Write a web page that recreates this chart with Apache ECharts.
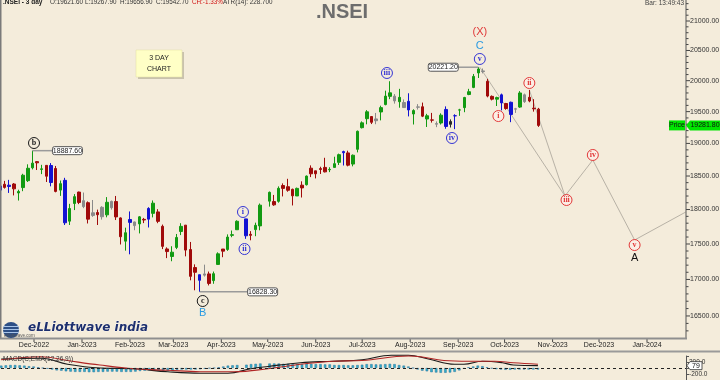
<!DOCTYPE html>
<html><head><meta charset="utf-8">
<script src="https://cdn.jsdelivr.net/npm/echarts@6.0.0/dist/echarts.min.js"></script>
<style>html,body{margin:0;padding:0;background:#f4ecdb;}#c{width:720px;height:380px;}</style>
</head><body><div id="c"></div>
<script>
// ---------- DATA ----------
// each 3-day bar is keyed by the first calendar day of its window
const candleDates = ['2022-11-09','2022-11-12','2022-11-15','2022-11-18','2022-11-21','2022-11-24','2022-11-27','2022-11-30',
'2022-12-03','2022-12-06','2022-12-09','2022-12-12','2022-12-15','2022-12-18','2022-12-21','2022-12-24','2022-12-27','2022-12-30',
'2023-01-02','2023-01-05','2023-01-08','2023-01-11','2023-01-14','2023-01-17','2023-01-20','2023-01-23','2023-01-26','2023-01-29',
'2023-02-01','2023-02-04','2023-02-07','2023-02-10','2023-02-13','2023-02-16','2023-02-19','2023-02-22','2023-02-25','2023-02-28',
'2023-03-03','2023-03-06','2023-03-09','2023-03-12','2023-03-15','2023-03-18','2023-03-21','2023-03-24','2023-03-27','2023-03-30',
'2023-04-02','2023-04-05','2023-04-08','2023-04-11','2023-04-17','2023-04-20','2023-04-23','2023-04-26',
'2023-05-02','2023-05-05','2023-05-08','2023-05-11','2023-05-14','2023-05-17','2023-05-20','2023-05-23','2023-05-26','2023-05-29',
'2023-06-01','2023-06-04','2023-06-07','2023-06-10','2023-06-13','2023-06-16','2023-06-19','2023-06-22','2023-06-25','2023-06-28',
'2023-07-01','2023-07-04','2023-07-07','2023-07-10','2023-07-13','2023-07-16','2023-07-19','2023-07-22','2023-07-25','2023-07-28','2023-07-31',
'2023-08-03','2023-08-06','2023-08-09','2023-08-12','2023-08-15','2023-08-18','2023-08-21','2023-08-24','2023-08-27','2023-08-30',
'2023-09-02','2023-09-05','2023-09-08','2023-09-11','2023-09-14','2023-09-17','2023-09-20','2023-09-23','2023-09-26','2023-09-29',
'2023-10-02','2023-10-05','2023-10-08','2023-10-11','2023-10-14','2023-10-17','2023-10-20','2023-10-23'];
const opens = [18288,18376,18362,18380,18246,18326,18430,18625, 18719,18600,18662,18402,18614,18288,18435,17830,18089,18259,
18131,18101,17952,17924,18033,17922,18120,18118,17877,17541, 17812,17818,17790,17847,17859,18094,17965,17755,17429,17383,
17451,17680,17772,17421,17166,17066,17060,17077,16984,17210, 17428,17422,17634,17705,17863,17639,17707,17761,
18124,18118,18121,18357,18339,18300,18201,18362,18369,18619, 18579,18613,18631,18595,18631,18708,18873,18853,18682,18909,
19246,19388,19422,19356,19495,19613,19802,19748,19729,19565,19666, 19463,19576,19578,19383,19369,19301,19320,19535,19299,19433,
19525,19564,19775,19890,20127,20160,19990,19745,19700,19770, 19630,19650,19545,19573,19770,19730,19555,19540];
const highs = [18362,18427,18442,18394,18294,18534,18678,18888, 18728,18670,18664,18697,18653,18432,18473,18084,18229,18265,
18252,18120,18141,17999,18049,18184,18132,18201,17885,17735, 17972,17823,17904,17877,18034,18134,18005,17780,17452,17468,
17644,17800,17772,17529,17211,17066,17207,17110,17110,17381, 17428,17638,17694,17842,17863,17685,17808,18089,
18267,18216,18344,18389,18458,18310,18326,18420,18508,18662, 18580,18641,18778,18633,18794,18842,18887,18887,18829,19201,
19345,19524,19427,19479,19595,19837,19991,19782,19867,19695,19795, 19538,19620,19645,19465,19480,19345,19473,19584,19377,19458,
19545,19737,19867,20110,20222,20200,20030,19760,19740,19790, 19640,19660,19560,19830,19790,19849,19700,19560];
const lows = [17969,18311,18246,18209,18133,18272,18410,18600, 18591,18529,18410,18345,18255,18202,17774,17774,17992,18080,
18020,17796,17893,17774,17853,17886,17999,17846,17493,17405, 17353,17698,17652,17801,17738,17885,17800,17427,17299,17255,
17427,17628,17324,16988,16850,16828,17040,16917,16940,17205, 17312,17402,17597,17702,17574,17553,17612,17697,
18043,18055,18101,18194,18264,18060,18201,18178,18357,18484, 18464,18531,18555,18559,18630,18668,18660,18647,18647,18861,
19234,19299,19303,19300,19361,19601,19700,19628,19563,19563,19424, 19296,19533,19413,19257,19326,19254,19296,19229,19249,19223,
19433,19491,19764,19878,20044,20120,19730,19680,19590,19520, 19530,19333,19480,19560,19640,19650,19500,19258];
const closes = [18350,18329,18343,18307,18267,18512,18618,18696, 18701,18609,18497,18660,18269,18385,17806,18015,18191,18105,
18043,17859,17914,17956,17894,18107,18027,17892,17604,17662, 17854,17765,17893,17856,18016,17944,17827,17466,17392,17322,
17594,17754,17413,17043,17100,16988,17077,16945,17080,17360, 17398,17599,17624,17828,17618,17624,17769,18065,
18255,18069,18315,18314,18286,18203,18314,18321,18499,18534, 18534,18599,18563,18601,18688,18826,18856,18665,18817,19189,
19322,19497,19331,19384,19564,19749,19745,19672,19659,19646,19527, 19517,19571,19428,19434,19365,19310,19444,19265,19342,19435,
19528,19727,19820,20070,20192,20150,19750,19700,19725,19640, 19550,19455,19540,19800,19660,19670,19545,19282];
// candle colour class as printed: g green, r red, b blue, k grey, d black
const candleClass = ['b','r','b','r','g','g','g','g', 'r','g','r','b','r','g','b','g','g','r',
'k','r','k','r','k','g','k','r','r','g', 'b','k','g','r','b','g','r','r','r','g',
'g','g','r','r','r','b','k','r','g','g', 'r','g','g','g','b','r','g','g',
'g','r','g','r','r','r','g','r','g','r', 'r','r','r','g','g','g','b','r','g','g',
'g','g','r','k','g','g','g','k','g','k','b', 'g','k','r','g','r','k','g','b','d','b',
'g','g','g','g','g','k','r','r','g','b', 'r','b','k','g','k','r','r','r'];

// MACD panel
const macdDates = ['2022-11-09','2022-12-05','2022-12-22','2023-01-12','2023-02-03','2023-02-25','2023-03-18','2023-04-05','2023-04-20','2023-05-01','2023-05-22','2023-06-12','2023-07-01','2023-07-20','2023-07-31','2023-08-13','2023-08-30','2023-09-05','2023-09-17','2023-09-30','2023-10-07','2023-10-23'];
const macdValues = [300,325,125,0,-25,-125,-175,-175,-25,50,175,225,275,425,425,300,125,125,225,175,100,79];
const signalDates = ['2022-11-09','2022-12-05','2022-12-22','2023-01-12','2023-02-03','2023-02-25','2023-03-18','2023-04-09','2023-05-01','2023-05-22','2023-06-12','2023-07-01','2023-07-31','2023-08-08','2023-08-23','2023-09-08','2023-09-25','2023-10-07','2023-10-23'];
const signalValues = [275,375,250,100,-25,-75,-125,-125,-25,125,225,250,400,375,250,225,225,175,125];
const histValues = [80,90,100,100,90,80,60,50, 25,0,-25,-50,-80,-90,-110,-120,-130,-130,
-130,-140,-140,-130,-130,-120,-120,-120,-130,-130, -130,-120,-100,-90,-80,-80,-80,-90,-90,-80,
-60,-50,-50,-50,-50,-40,-25,-10,0,25, 50,80,90,100,110,130,140,150,
150,150,150,140,140,130,130,130,140,140, 130,130,120,120,100,100,100,90,90,100,
110,130,130,120,120,130,140,130,100,80,50, 0,-50,-90,-110,-140,-150,-160,-160,-150,-130,
-80,-25,25,50,80,60,25,-15,-40,-50, -60,-60,-50,-50,-50,-50,-50,-50];

// price axis tick labels
const priceTickLabels = [16500,17000,17500,18000,18500,19000,19500,20000,20500,21000];
// month labels on the date axis
const monthDates = ['2022-12-01','2023-01-01','2023-02-01','2023-03-01','2023-04-01','2023-05-01','2023-06-01','2023-07-01','2023-08-01','2023-09-01','2023-10-01','2023-11-01','2023-12-01','2024-01-01'];
const monthLabels = ['Dec-2022','Jan-2023','Feb-2023','Mar-2023','Apr-2023','May-2023','Jun-2023','Jul-2023','Aug-2023','Sep-2023','Oct-2023','Nov-2023','Dec-2023','Jan-2024'];

// Elliott wave annotations
const waveText  = ['b','c','B','i','ii','iii','iv','v','C','(X)','i','ii','iii','iv','v','A'];
const waveKind  = ['kc','kc','tb','bc','bc','bc','bc','bc','tb','tr','rc','rc','rc','rc','rc','tk'];
const waveDates = ['2022-12-01','2023-03-20','2023-03-20','2023-04-15','2023-04-16','2023-07-17','2023-08-28','2023-09-15','2023-09-15','2023-09-15','2023-09-27','2023-10-17','2023-11-10','2023-11-27','2023-12-24','2023-12-24'];
const wavePrices = [19006,16703,16539,17964,17428,20126,19084,20358,20575,20812,19430,19962,18141,18821,17485,17300];

// price call-outs (attached to the bar that made the extreme)
const tagDates = ['2022-11-30','2023-03-18','2023-09-14'];
const tagPrices = [18887.60,16828.30,20221.20];

// projected path
const projDates = ['2023-09-15','2023-11-09','2023-11-27','2023-12-24','2024-01-26'];
const projPrices = [20221,18201,18744,17557,17963];
const proj2Dates = ['2023-10-17','2023-11-09'];
const proj2Prices = [19850,18201];

const headerItems = ['O:19621.60','L:19267.90','H:19656.90','C:19542.70','CH:-1.33%','ATR(14): 228.700'];

const lastPrice = 19281.80;
const lastMacd = 79;

// ---------- HELPERS ----------
const DAY = 86400000;
function ts(s){const a=s.split('-').map(Number);return new Date(a[0],a[1]-1,a[2]).getTime();}
const xMin = ts('2022-12-01') - 21.32*DAY;
const xMax = ts('2024-01-01') + 25.19*DAY;
const SANS = '"Liberation Sans", Arial, sans-serif';
const SERIF = '"Liberation Serif", "Times New Roman", serif';
const COL = {g:'#129a12', r:'#a00a0a', b:'#1212d2', k:'#8a8a8a', d:'#2a2a2a'};

const candleData = candleDates.map((d,i)=>{
  const c = COL[candleClass[i]];
  return {value:[ts(d), opens[i], closes[i], lows[i], highs[i]],
    itemStyle:{color:c,color0:c,borderColor:c,borderColor0:c}};
});

const chart = echarts.init(document.getElementById('c'), null, {renderer:'canvas'});

const option = {
  backgroundColor:'#f4ecdb',
  animation:false,
  grid:[
    {left:1, right:34, top:0, height:338},
    {left:1, right:34, top:356, height:32}
  ],
  xAxis:[
    {type:'time', gridIndex:0, min:xMin, max:xMax, axisLine:{show:false}, axisTick:{show:false}, axisLabel:{show:false}, splitLine:{show:false}},
    {type:'time', gridIndex:1, min:xMin, max:xMax, show:false}
  ],
  yAxis:[
    {type:'log', gridIndex:0, logBase:10, min:16205.3, max:21363.7, position:'right', axisLine:{show:false}, axisTick:{show:false}, axisLabel:{show:false}, splitLine:{show:false}},
    {type:'value', gridIndex:1, min:-400, max:400, interval:200, position:'right',
      axisLine:{show:true, lineStyle:{color:'#555', width:1}}, axisTick:{show:true, length:3, lineStyle:{color:'#555'}},
      axisLabel:{show:true, margin:3, fontSize:6.5, fontFamily:SANS, color:'#333',
        formatter:v=> (v===200?'200.0':(v===-200?'-200.0':''))},
      splitLine:{show:false}}
  ],
  series:[
    {type:'candlestick', name:'NSEI', xAxisIndex:0, yAxisIndex:0, data:candleData, barWidth:3,
      encode:{x:0, y:[1,2,3,4]}, itemStyle:{borderWidth:1}},
    {type:'line', name:'proj', xAxisIndex:0, yAxisIndex:0, data:projDates.map((d,i)=>[ts(d),projPrices[i]]),
      symbol:'none', lineStyle:{color:'#b8b2a6', width:1}, z:1, clip:false},
    {type:'line', name:'proj2', xAxisIndex:0, yAxisIndex:0, data:proj2Dates.map((d,i)=>[ts(d),proj2Prices[i]]),
      symbol:'none', lineStyle:{color:'#b8b2a6', width:1}, z:1, clip:false},
    {type:'custom', name:'priceAxis', xAxisIndex:0, yAxisIndex:0, clip:false, silent:true,
      data:(function(){const a=[];for(let v=16300;v<=21300;v+=100)a.push([xMax,v]);return a;})(),
      renderItem:(params,api)=>{
        const v=api.value(1); const cs=params.coordSys;
        const y=api.coord([xMax,v])[1]; const x=cs.x+cs.width;
        const major = priceTickLabels.indexOf(v)>=0;
        const ch=[{type:'line',shape:{x1:x,y1:y,x2:x+(major?4:2.5),y2:y},style:{stroke:'#444',lineWidth:1}}];
        if(major) ch.push({type:'text',x:x+4,y:y,style:{text:v.toFixed(2),fill:'#333',font:'7px '+SANS,verticalAlign:'middle',align:'left'}});
        return {type:'group',children:ch};
      }},
    {type:'custom', name:'dateAxis', xAxisIndex:0, yAxisIndex:0, clip:false, silent:true,
      data:monthDates.map((d,i)=>[ts(d),18000,i]),
      renderItem:(params,api)=>{
        const cs=params.coordSys; const x=api.coord([api.value(0),18000])[0]; const yb=cs.y+cs.height;
        return {type:'group',children:[
          {type:'line',shape:{x1:x,y1:yb+1,x2:x,y2:yb+4},style:{stroke:'#444',lineWidth:1}},
          {type:'text',x:x,y:yb+7,style:{text:monthLabels[params.dataIndex],fill:'#222',font:'7px '+SANS,align:'center',verticalAlign:'middle'}}
        ]};
      }},
    {type:'custom', name:'waves', xAxisIndex:0, yAxisIndex:0, clip:false, silent:true, z:5,
      data:waveDates.map((d,i)=>[ts(d),wavePrices[i]]),
      renderItem:(params,api)=>{
        const i=params.dataIndex; const p=api.coord([api.value(0),api.value(1)]);
        const kind=waveKind[i]; const t=waveText[i];
        if(kind[1]==='c'){
          const col={kc:'#1a1a1a',bc:'#3535d5',rc:'#e23a3a'}[kind];
          return {type:'group',children:[
            {type:'circle',shape:{cx:p[0],cy:p[1],r:5.5},style:{fill:kind==='rc'?'rgba(255,240,235,0.6)':'rgba(0,0,0,0)',stroke:col,lineWidth:1}},
            {type:'text',x:p[0],y:p[1],style:{text:t,fill:col,font:'bold 8px '+SERIF,align:'center',verticalAlign:'middle'}}
          ]};
        }
        const col={tb:'#2a9be2',tr:'#e03a3a',tk:'#111'}[kind];
        return {type:'text',x:p[0],y:p[1],style:{text:t,fill:col,font:'11px '+SANS,align:'center',verticalAlign:'middle'}};
      }},
    {type:'custom', name:'tags', xAxisIndex:0, yAxisIndex:0, clip:false, silent:true, z:4,
      data:tagDates.map((d,i)=>[ts(d),tagPrices[i]]),
      renderItem:(params,api)=>{
        const i=params.dataIndex; const p=api.coord([api.value(0),api.value(1)]);
        const off=[20,48,-20][i]; const w=30,h=8;
        const bx = off>0 ? p[0]+off : p[0]+off-w;
        const lx2 = off>0 ? bx : bx+w;
        return {type:'group',children:[
          {type:'line',shape:{x1:p[0],y1:p[1],x2:lx2,y2:p[1]},style:{stroke:'#9a9a9a',lineWidth:1.5}},
          {type:'rect',shape:{x:bx,y:p[1]-h/2,width:w,height:h,r:2},style:{fill:'#ffffff',stroke:'#555',lineWidth:1}},
          {type:'text',x:bx+w/2,y:p[1],style:{text:tagPrices[i].toFixed(2),fill:'#222',font:'7px '+SANS,align:'center',verticalAlign:'middle'}}
        ]};
      }},
    {type:'bar', name:'hist', xAxisIndex:1, yAxisIndex:1, data:candleDates.map((d,i)=>[ts(d),histValues[i]]),
      barWidth:2.5, itemStyle:{color:'#2fb0c8', borderColor:'#2a70a0', borderWidth:0.5},
      markLine:{silent:true, symbol:'none', label:{show:false}, lineStyle:{type:[3,3], color:'#222', width:1}, data:[{yAxis:0}]}},
    {type:'line', name:'MACD', xAxisIndex:1, yAxisIndex:1, data:macdDates.map((d,i)=>[ts(d),macdValues[i]]),
      smooth:0.4, symbol:'none', lineStyle:{color:'#1a1a1a', width:1.2}, clip:false},
    {type:'line', name:'Signal', xAxisIndex:1, yAxisIndex:1, data:signalDates.map((d,i)=>[ts(d),signalValues[i]]),
      smooth:0.4, symbol:'none', lineStyle:{color:'#b02525', width:1.2}, clip:false}
  ]
};
chart.setOption(option);

const yPrice = chart.convertToPixel({xAxisIndex:0,yAxisIndex:0},[xMax,lastPrice])[1];
const yMacd = chart.convertToPixel({xAxisIndex:1,yAxisIndex:1},[xMax,lastMacd])[1];
const headerX = [50,85,120,156,192,223];
const headerG = headerItems.map((t,i)=>({type:'text',x:headerX[i],y:2.5,style:{text:t,fill:i===4?'#d01010':'#333',font:'6.3px '+SANS,verticalAlign:'middle'},z:10}));
chart.setOption({graphic:[
  {type:'rect',shape:{x:0,y:0,width:1.5,height:339},style:{fill:'#7a7a7a'},z:10},
  {type:'rect',shape:{x:685.5,y:0,width:1,height:339},style:{fill:'#555'},z:10},
  {type:'rect',shape:{x:0,y:337.5,width:687,height:2},style:{fill:'#8f8f8f'},z:10},
  {type:'rect',shape:{x:0,y:350.5,width:720,height:2},style:{fill:'#9a9a9a'},z:10},
  {type:'text',x:3,y:2.5,style:{text:'.NSEI - 3 day',fill:'#222',font:'bold 6.5px '+SANS,verticalAlign:'middle'},z:10},
  ...headerG,
  {type:'text',x:645,y:3,style:{text:'Bar: 13:49:43',fill:'#444',font:'6.5px '+SANS,verticalAlign:'middle'},z:10},
  {type:'text',x:342,y:12,style:{text:'.NSEI',fill:'#6d6d6d',font:'bold 20px '+SANS,align:'center',verticalAlign:'middle'},z:10},
  {type:'rect',shape:{x:138,y:52,width:46,height:27},style:{fill:'#c9c2ad'},z:10},
  {type:'rect',shape:{x:136,y:50,width:46,height:27},style:{fill:'#ffffc6',stroke:'#e0dca0',lineWidth:0.5},z:11},
  {type:'text',x:159,y:58,style:{text:'3 DAY',fill:'#222',font:'7px '+SANS,align:'center',verticalAlign:'middle'},z:12},
  {type:'text',x:159,y:69,style:{text:'CHART',fill:'#222',font:'7px '+SANS,align:'center',verticalAlign:'middle'},z:12},
  {type:'rect',shape:{x:669,y:yPrice-5,width:16,height:10},style:{fill:'#00e400'},z:12},
  {type:'text',x:677,y:yPrice,style:{text:'Price',fill:'#111',font:'7px '+SANS,align:'center',verticalAlign:'middle'},z:13},
  {type:'polygon',shape:{points:[[686,yPrice],[690,yPrice-5],[720,yPrice-5],[720,yPrice+5],[690,yPrice+5]]},style:{fill:'#00e400'},z:12},
  {type:'text',x:705,y:yPrice,style:{text:'19281.80',fill:'#111',font:'7px '+SANS,align:'center',verticalAlign:'middle'},z:13},
  {type:'polygon',shape:{points:[[687,yMacd],[690,yMacd-4],[702,yMacd-4],[702,yMacd+4],[690,yMacd+4]]},style:{fill:'#fff',stroke:'#333',lineWidth:0.8},z:12},
  {type:'text',x:696,y:yMacd,style:{text:'79',fill:'#111',font:'7px '+SANS,align:'center',verticalAlign:'middle'},z:13},
  {type:'text',x:3,y:359,style:{text:'MACD(C,EMA(12,26,9))',fill:'#333',font:'6.5px '+SANS,verticalAlign:'middle'},z:12},
  {type:'circle',shape:{cx:11,cy:330,r:8},style:{fill:'#2d4f86'},z:12},
  {type:'rect',shape:{x:3,y:326,width:16,height:1},style:{fill:'#a8c4e8'},z:13},
  {type:'rect',shape:{x:3,y:329,width:16,height:1},style:{fill:'#a8c4e8'},z:13},
  {type:'rect',shape:{x:3,y:332,width:16,height:1},style:{fill:'#a8c4e8'},z:13},
  {type:'text',x:4,y:335.5,style:{text:'elliottwave.com',fill:'#555',font:'4.5px '+SANS,verticalAlign:'middle'},z:14},
  {type:'text',x:28,y:328,style:{text:'eLLiottwave india',fill:'#1d2f6e',stroke:'#ffffff',lineWidth:0.5,font:'italic bold 12px "DejaVu Sans", sans-serif',verticalAlign:'middle'},z:12}
]});
</script></body></html>
